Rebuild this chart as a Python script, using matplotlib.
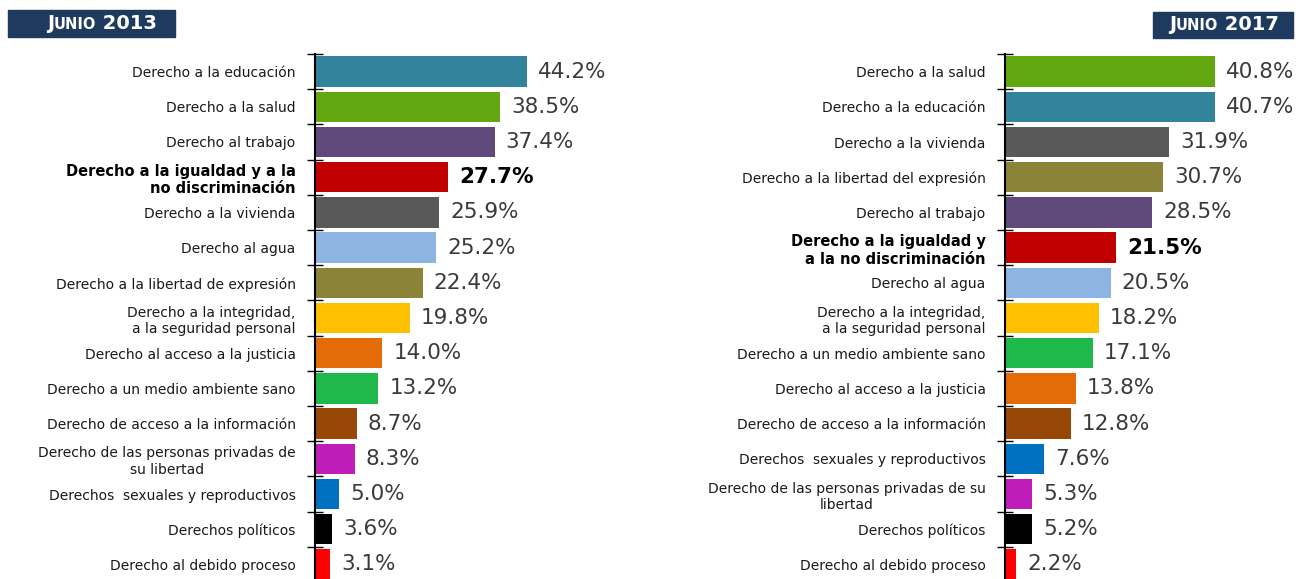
import numpy as np
import matplotlib
matplotlib.use("Agg")
import matplotlib.pyplot as plt
from matplotlib.patches import Rectangle
from matplotlib.offsetbox import TextArea, HPacker, AnchoredOffsetbox

# ---- data ----
labels_2013 = ["Derecho a la educación", "Derecho a la salud", "Derecho al trabajo",
               "Derecho a la igualdad y a la\nno discriminación", "Derecho a la vivienda",
               "Derecho al agua", "Derecho a la libertad de expresión",
               "Derecho a la integridad,\na la seguridad personal",
               "Derecho al acceso a la justicia", "Derecho a un medio ambiente sano",
               "Derecho de acceso a la información",
               "Derecho de las personas privadas de\nsu libertad",
               "Derechos  sexuales y reproductivos", "Derechos políticos",
               "Derecho al debido proceso"]
values_2013 = [44.2, 38.5, 37.4, 27.7, 25.9, 25.2, 22.4, 19.8, 14.0, 13.2, 8.7, 8.3, 5.0, 3.6, 3.1]

labels_2017 = ["Derecho a la salud", "Derecho a la educación", "Derecho a la vivienda",
               "Derecho a la libertad del expresión", "Derecho al trabajo",
               "Derecho a la igualdad y\na la no discriminación", "Derecho al agua",
               "Derecho a la integridad,\na la seguridad personal",
               "Derecho a un medio ambiente sano", "Derecho al acceso a la justicia",
               "Derecho de acceso a la información", "Derechos  sexuales y reproductivos",
               "Derecho de las personas privadas de su\nlibertad", "Derechos políticos",
               "Derecho al debido proceso"]
values_2017 = [40.8, 40.7, 31.9, 30.7, 28.5, 21.5, 20.5, 18.2, 17.1, 13.8, 12.8, 7.6, 5.3, 5.2, 2.2]

# colour per right (same in both years)
colors = {
    "educación": "#31849B", "salud": "#62A70F", "trabajo": "#604A7B",
    "igualdad": "#C00000", "vivienda": "#595959", "agua": "#8DB4E2",
    "expresión": "#8A8338", "integridad": "#FFC000", "justicia": "#E36C09",
    "ambiente": "#1FB84A", "información": "#974806", "privadas": "#BE1DBA",
    "sexuales": "#0070C0", "políticos": "#000000", "debido": "#FF0000",
}

def color_for(label):
    for k, c in colors.items():
        if k in label:
            return c
    return "gray"

fig = plt.figure(figsize=(13.05, 5.79), dpi=100)
W, H = 1305, 579

def draw_panel(left_px, right_px, scale, labels, values):
    ax = fig.add_axes([left_px / W, 1 - 582 / H, (right_px - left_px) / W, 528 / H])
    y = np.arange(len(labels))
    ax.barh(y, values, height=0.86, color=[color_for(l) for l in labels])
    ax.set_xlim(0, (right_px - left_px) / scale)
    ax.set_ylim(len(labels) - 0.5, -0.5)
    for s in ["top", "right", "bottom"]:
        ax.spines[s].set_visible(False)
    ax.spines["left"].set_linewidth(1.5)
    ax.xaxis.set_visible(False)
    ax.set_yticks(y)
    ax.set_yticklabels(labels)
    ax.tick_params(axis="y", which="major", length=0, pad=14)
    ax.set_yticks(np.arange(len(labels) + 1) - 0.5, minor=True)
    ax.tick_params(axis="y", which="minor", direction="inout", length=11, width=1)
    for lab, t in zip(labels, ax.get_yticklabels()):
        t.set_color("#1a1a1a")
        t.set_fontsize(10)
        t.set_multialignment("center" if "privadas" in lab else "right")
        if "igualdad" in lab:
            t.set_fontweight("bold")
            t.set_fontsize(10.5)
            t.set_color("black")
    for i, v in enumerate(values):
        bold = "igualdad" in labels[i]
        ax.annotate(f"{v:.1f}%", (v, i), xytext=(8, 0), textcoords="offset points",
                    va="center", ha="left", fontsize=15.5,
                    fontweight="bold" if bold else "normal",
                    color="black" if bold else "#3a3a3a")
    return ax

draw_panel(315, 625, 4.8, labels_2013, values_2013)
draw_panel(1005, 1305, 5.15, labels_2017, values_2017)

# header boxes
def header(x0, y0, w, h, year, text_cx):
    fig.patches.append(Rectangle((x0 / W, 1 - (y0 + h) / H), w / W, h / H,
                                 transform=fig.transFigure, color="#1F3A5F", zorder=0))
    parts = [TextArea("J", textprops=dict(color="white", fontsize=14, fontweight="bold")),
             TextArea("UNIO", textprops=dict(color="white", fontsize=10.5, fontweight="bold")),
             TextArea(" " + year, textprops=dict(color="white", fontsize=14, fontweight="bold"))]
    box = HPacker(children=parts, align="baseline", pad=0, sep=0)
    ab = AnchoredOffsetbox(loc="center", child=box, frameon=False,
                           bbox_to_anchor=(text_cx / W, 1 - (y0 + h / 2) / H),
                           bbox_transform=fig.transFigure, pad=0, borderpad=0)
    fig.add_artist(ab)

header(8, 10, 167, 27, "2013", 102)
header(1153, 12, 140, 26, "2017", 1224)

plt.savefig("out.png", dpi=100)
